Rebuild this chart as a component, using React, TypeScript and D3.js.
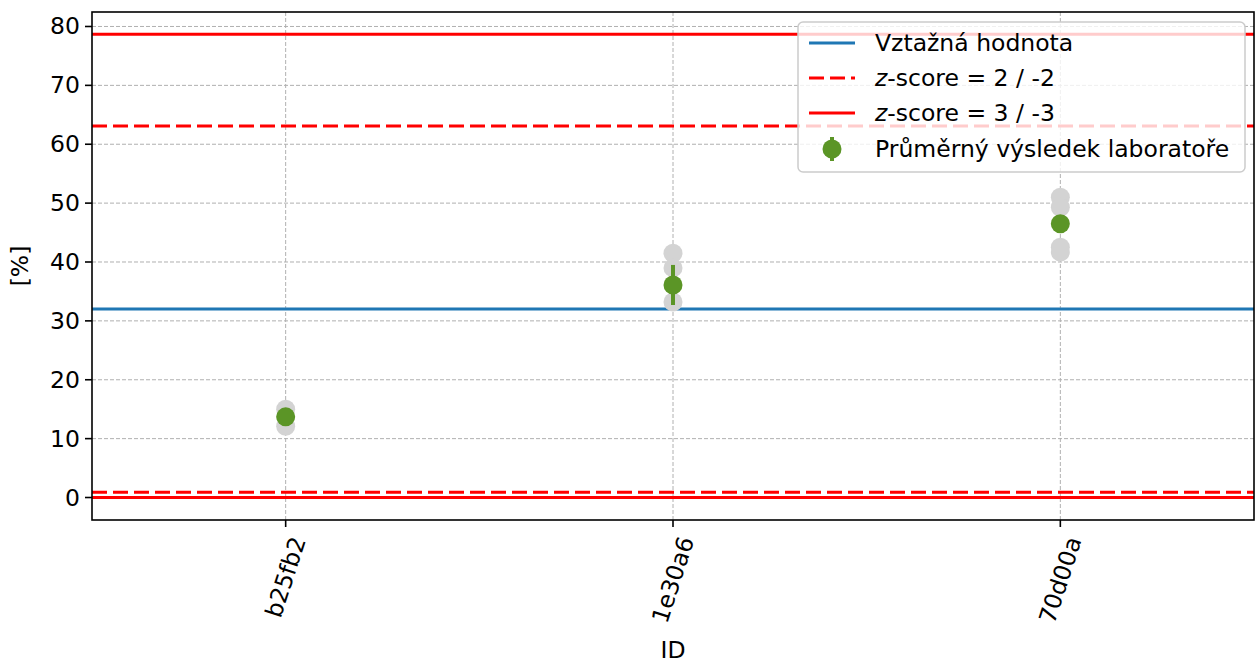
import React, { useEffect, useRef } from "react";
import * as d3 from "d3";

const categories = ["b25fb2", "1e30a6", "70d00a"];
const labMeans = [13.7, 36.1, 46.5];
const labErrors = [0, 3.4, 0];
const individualResults = [
  [15.0, 12.1],
  [41.5, 39.0, 33.2],
  [51.0, 49.3, 42.5, 41.7],
];
const referenceValue = 32;
const z2Limits = [63.1, 0.9];
const z3Limits = [78.7, 0];
const yTicks = [0, 10, 20, 30, 40, 50, 60, 70, 80];

const W = 1256;
const H = 664;
const M = { left: 92, right: 1254, top: 12, bottom: 520 };
const FONT = "DejaVu Sans, sans-serif";
const FS = 23.5;
const GREEN = "#5b9526";
const RED = "#ff0000";
const BLUE = "#1f77b4";

export default function App() {
  const ref = useRef<SVGSVGElement>(null);
  useEffect(() => {
    const svg = d3.select(ref.current);
    svg.selectAll("*").remove();
    const x = d3.scaleLinear().domain([-0.5, 2.5]).range([M.left, M.right]);
    const y = d3.scaleLinear().domain([-3.82, 82.46]).range([M.bottom, M.top]);

    svg.append("rect").attr("width", W).attr("height", H).attr("fill", "white");

    const defs = svg.append("defs");
    defs.append("clipPath").attr("id", "plotclip").append("rect")
      .attr("x", M.left).attr("y", M.top).attr("width", M.right - M.left).attr("height", M.bottom - M.top);

    const g = svg.append("g");
    yTicks.forEach((t) => {
      g.append("line").attr("x1", M.left).attr("x2", M.right).attr("y1", y(t)).attr("y2", y(t))
        .attr("stroke", "#b0b0b0").attr("stroke-width", 1).attr("stroke-dasharray", "4,2");
    });
    categories.forEach((_, i) => {
      g.append("line").attr("x1", x(i)).attr("x2", x(i)).attr("y1", M.top).attr("y2", M.bottom)
        .attr("stroke", "#b0b0b0").attr("stroke-width", 1).attr("stroke-dasharray", "4,2");
    });

    const pl = svg.append("g").attr("clip-path", "url(#plotclip)");
    const hline = (v: number, color: string, dash: string | null) => {
      const l = pl.append("line").attr("x1", M.left).attr("x2", M.right).attr("y1", y(v)).attr("y2", y(v))
        .attr("stroke", color).attr("stroke-width", 3);
      if (dash) l.attr("stroke-dasharray", dash);
    };
    hline(referenceValue, BLUE, null);
    z2Limits.forEach((v) => hline(v, RED, "15,6"));
    z3Limits.forEach((v) => hline(v, RED, null));

    individualResults.forEach((vals, i) => {
      vals.forEach((v) => {
        pl.append("circle").attr("cx", x(i)).attr("cy", y(v)).attr("r", 9.5).attr("fill", "#d3d3d3");
      });
    });
    labMeans.forEach((m, i) => {
      const e = labErrors[i];
      if (e > 0) {
        pl.append("line").attr("x1", x(i)).attr("x2", x(i)).attr("y1", y(m - e)).attr("y2", y(m + e))
          .attr("stroke", GREEN).attr("stroke-width", 4);
      }
      pl.append("circle").attr("cx", x(i)).attr("cy", y(m)).attr("r", 9.5).attr("fill", GREEN);
    });

    svg.append("rect").attr("x", M.left).attr("y", M.top).attr("width", M.right - M.left).attr("height", M.bottom - M.top)
      .attr("fill", "none").attr("stroke", "black").attr("stroke-width", 1.6);

    yTicks.forEach((t) => {
      svg.append("line").attr("x1", M.left - 7).attr("x2", M.left).attr("y1", y(t)).attr("y2", y(t))
        .attr("stroke", "black").attr("stroke-width", 1.6);
      svg.append("text").attr("x", M.left - 12).attr("y", y(t)).attr("text-anchor", "end")
        .attr("dominant-baseline", "central").attr("font-family", FONT).attr("font-size", FS).text(String(t));
    });
    categories.forEach((c, i) => {
      svg.append("line").attr("x1", x(i)).attr("x2", x(i)).attr("y1", M.bottom).attr("y2", M.bottom + 7)
        .attr("stroke", "black").attr("stroke-width", 1.6);
      const t = svg.append("text").attr("font-family", FONT).attr("font-size", FS)
        .attr("text-anchor", "middle").attr("dominant-baseline", "central").text(c);
      const w = (t.node() as SVGTextElement).getComputedTextLength();
      const h = FS * 1.0;
      const a = (72 * Math.PI) / 180;
      const bh = w * Math.sin(a) + h * Math.cos(a);
      const cy = M.bottom + 7 + 7 + bh / 2;
      t.attr("transform", `translate(${x(i)},${cy}) rotate(-72)`);
    });

    svg.append("text").attr("x", (M.left + M.right) / 2).attr("y", 650).attr("text-anchor", "middle")
      .attr("dominant-baseline", "central").attr("font-family", FONT).attr("font-size", FS).text("ID");
    svg.append("text").attr("transform", `translate(20,${(M.top + M.bottom) / 2}) rotate(-90)`)
      .attr("text-anchor", "middle").attr("dominant-baseline", "central").attr("font-family", FONT)
      .attr("font-size", FS).text("[%]");

    const lg = svg.append("g");
    lg.append("rect").attr("x", 798).attr("y", 22).attr("width", 447).attr("height", 150).attr("rx", 5)
      .attr("fill", "white").attr("fill-opacity", 0.8).attr("stroke", "#cccccc").attr("stroke-width", 1.5);
    const rows = [43, 78, 113, 149];
    const hx1 = 809, hx2 = 855, tx = 875;
    lg.append("line").attr("x1", hx1).attr("x2", hx2).attr("y1", rows[0]).attr("y2", rows[0]).attr("stroke", BLUE).attr("stroke-width", 3);
    lg.append("line").attr("x1", hx1).attr("x2", hx2).attr("y1", rows[1]).attr("y2", rows[1]).attr("stroke", RED).attr("stroke-width", 3).attr("stroke-dasharray", "15,6");
    lg.append("line").attr("x1", hx1).attr("x2", hx2).attr("y1", rows[2]).attr("y2", rows[2]).attr("stroke", RED).attr("stroke-width", 3);
    lg.append("line").attr("x1", 832).attr("x2", 832).attr("y1", rows[3] - 12).attr("y2", rows[3] + 12).attr("stroke", GREEN).attr("stroke-width", 4);
    lg.append("circle").attr("cx", 832).attr("cy", rows[3]).attr("r", 9.5).attr("fill", GREEN);
    const lt = (yy: number) => lg.append("text").attr("x", tx).attr("y", yy).attr("dominant-baseline", "central")
      .attr("font-family", FONT).attr("font-size", FS);
    lt(rows[0]).text("Vztažná hodnota");
    const t2 = lt(rows[1]);
    t2.append("tspan").attr("font-style", "italic").text("z");
    t2.append("tspan").text("-score = 2 / -2");
    const t3 = lt(rows[2]);
    t3.append("tspan").attr("font-style", "italic").text("z");
    t3.append("tspan").text("-score = 3 / -3");
    lt(rows[3]).text("Průměrný výsledek laboratoře");
  }, []);
  return (
    <svg ref={ref} width={W} height={H} style={{ position: "absolute", left: 0, top: 0 }} />
  );
}
